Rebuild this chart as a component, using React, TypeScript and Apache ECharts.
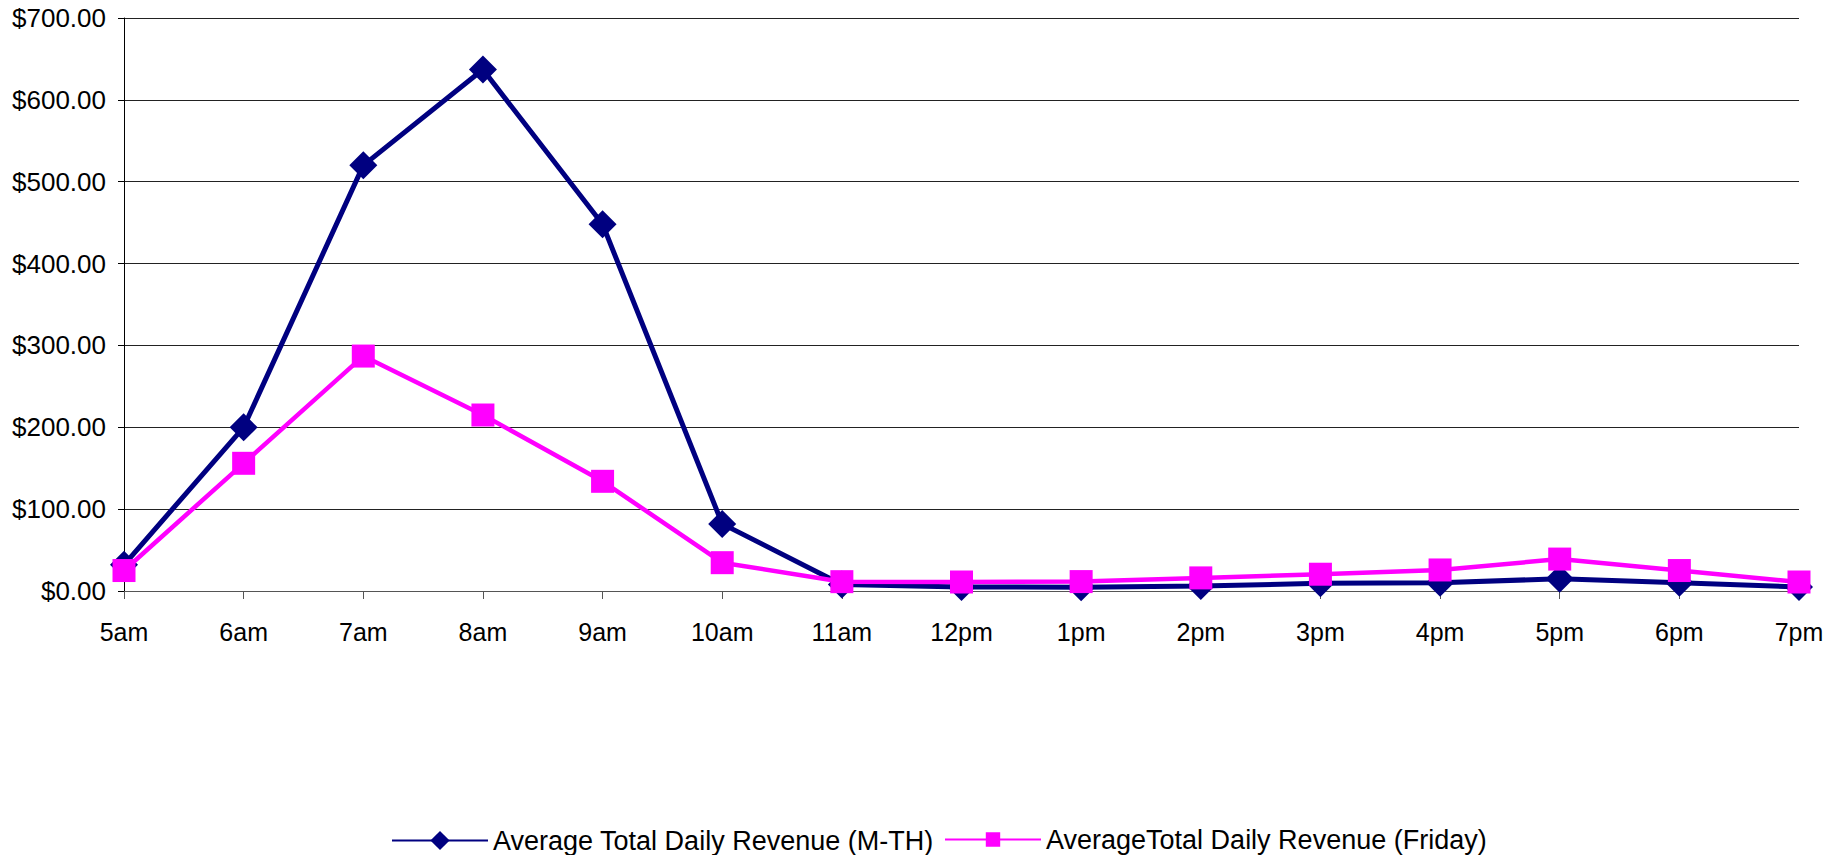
import React, { useEffect, useRef } from "react";
import * as echarts from "echarts";

const hours = ["5am", "6am", "7am", "8am", "9am", "10am", "11am", "12pm", "1pm", "2pm", "3pm", "4pm", "5pm", "6pm", "7pm"];
const seriesMTH = [32, 200, 520, 637, 448, 82, 8, 5, 4.5, 6, 9.5, 10, 15, 10, 5];
const seriesFriday = [25, 156, 287, 215, 134, 34.6, 11.4, 11, 11.5, 16, 20.5, 25.7, 39, 25, 11];
const nameMTH = "Average Total Daily Revenue (M-TH)";
const nameFriday = "AverageTotal Daily Revenue (Friday)";
const yMin = 0;
const yMax = 700;
const yStep = 100;

const FONT = "'Liberation Sans', Arial, sans-serif";

export default function App() {
  const ref = useRef<HTMLDivElement>(null);
  useEffect(() => {
    if (!ref.current) return;
    const chart = echarts.init(ref.current, null, { renderer: "svg" });
    chart.setOption({
      animation: false,
      backgroundColor: "#ffffff",
      textStyle: { fontFamily: FONT, color: "#000" },
      grid: { left: 124, right: 46, top: 18, bottom: 264, containLabel: false },
      legend: [
        {
          data: [nameMTH],
          left: 386,
          top: 822,
          itemWidth: 96,
          itemHeight: 24,
          itemGap: 20,
          textStyle: { fontFamily: FONT, fontSize: 27, color: "#000" },
        },
        {
          data: [nameFriday],
          left: 939,
          top: 821,
          itemWidth: 96,
          itemHeight: 18,
          itemGap: 20,
          textStyle: { fontFamily: FONT, fontSize: 27, color: "#000" },
        },
      ],
      xAxis: {
        type: "category",
        data: hours,
        boundaryGap: false,
        axisLine: { lineStyle: { color: "#555", width: 1 } },
        axisTick: { show: true, length: 8, lineStyle: { color: "#555" } },
        axisLabel: { fontFamily: FONT, fontSize: 25, color: "#000", margin: 28 },
        splitLine: { show: false },
      },
      yAxis: {
        type: "value",
        min: yMin,
        max: yMax,
        interval: yStep,
        axisLine: { show: true, lineStyle: { color: "#000", width: 1 } },
        axisTick: { show: true, length: 6, lineStyle: { color: "#000" } },
        axisLabel: {
          fontFamily: FONT,
          fontSize: 26,
          color: "#000",
          margin: 18,
          formatter: (v: number) => "$" + v.toFixed(2),
        },
        splitLine: { show: true, lineStyle: { color: "#222", width: 1 } },
      },
      series: [
        {
          name: nameMTH,
          type: "line",
          data: seriesMTH,
          symbol: "diamond",
          symbolSize: 28,
          lineStyle: { color: "#000080", width: 5 },
          itemStyle: { color: "#000080" },
          z: 2,
        },
        {
          name: nameFriday,
          type: "line",
          data: seriesFriday,
          symbol: "rect",
          symbolSize: 23,
          lineStyle: { color: "#FF00FF", width: 4.5 },
          itemStyle: { color: "#FF00FF" },
          z: 3,
        },
      ],
    });
    return () => chart.dispose();
  }, []);
  return (
    <div
      ref={ref}
      style={{ position: "absolute", left: 0, top: 0, width: "1845px", height: "855px" }}
    />
  );
}
